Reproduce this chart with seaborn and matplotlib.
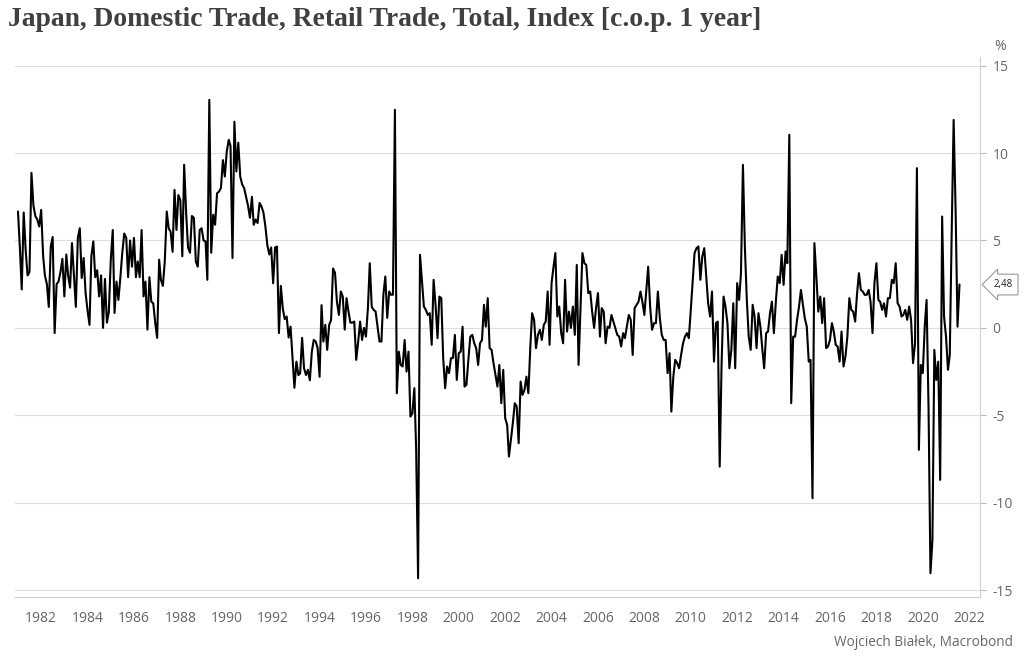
import numpy as np
import pandas as pd
import matplotlib
matplotlib.use("Agg")
import matplotlib.pyplot as plt
import matplotlib.dates as mdates
import seaborn as sns

# monthly values, Jan 1981 .. Aug 2021
y1981 = [6.66, 4.5, 2.2, 6.6, 4.5, 3.0, 3.2, 8.87, 7.0, 6.4, 6.2, 5.8]
y1982 = [6.75, 4.1, 3.0, 2.5, 1.2, 4.65, 5.2, -0.3, 2.5, 2.65, 3.2, 3.95]
y1983 = [1.8, 4.2, 3.0, 2.3, 4.85, 3.0, 1.2, 5.15, 5.7, 2.85, 4.0, 2.0]
y1984 = [1.0, 0.17, 4.1, 4.95, 2.9, 3.3, 1.8, 3.0, 0.0, 2.8, 0.3, 0.9]
y1985 = [3.9, 5.6, 0.85, 2.65, 1.6, 2.9, 4.3, 5.4, 5.15, 2.9, 5.0, 3.5]
y1986 = [5.15, 2.9, 3.8, 2.9, 5.6, 1.8, 2.65, -0.1, 2.9, 1.5, 1.4, 0.3]
y1987 = [-0.57, 3.9, 2.75, 2.4, 3.8, 6.66, 5.7, 5.5, 4.35, 7.9, 5.6, 7.6]
y1988 = [7.3, 4.1, 9.33, 6.6, 4.6, 4.3, 6.4, 6.3, 3.8, 3.5, 5.6, 5.7]
y1989 = [5.0, 4.95, 2.75, 13.05, 4.3, 6.47, 5.9, 7.7, 7.8, 8.0, 9.6, 8.66]
y1990 = [10.1, 10.76, 10.4, 4.0, 11.8, 8.95, 10.6, 8.66, 8.2, 8.0, 7.5, 7.0]
y1991 = [6.3, 7.5, 5.9, 6.2, 6.0, 7.15, 6.95, 6.6, 5.8, 4.75, 4.2, 4.6]
y1992 = [2.55, 4.6, 4.65, -0.3, 2.4, 1.1, 0.5, 0.65, -0.55, 0.07, -1.7, -3.43]
y1993 = [-1.93, -2.7, -2.6, -0.57, -2.3, -2.7, -2.4, -3.0, -1.36, -0.69, -0.78, -1.15]
y1994 = [-2.8, 1.3, -0.78, 0.17, -1.26, 0.17, 0.45, 3.4, 3.15, 1.5, 0.74, 2.08]
y1995 = [1.8, -0.1, 1.7, 0.93, 0.3, 0.3, 0.36, -1.83, -0.78, 0.36, -0.69, 0.0]
y1996 = [-0.5, 1.14, 3.7, 1.2, 1.03, 0.93, 0.1, -0.78, -0.78, 1.89, 2.94, 0.57]
y1997 = [2.08, 1.89, 1.9, 12.48, -3.74, -1.36, -2.12, -2.21, -0.69, -2.5, -1.36, -5.08]
y1998 = [-4.89, -3.45, -6.89, -14.33, 4.18, 2.65, 1.22, 1.03, 0.74, 0.84, -0.97, 2.75]
y1999 = [1.32, -0.59, 1.79, 1.7, -1.73, -3.45, -2.21, -2.59, -1.73, -1.73, -0.4, -2.98]
y2000 = [-1.45, -1.36, 0.07, -3.36, -3.26, -1.8, -0.5, -0.4, -0.88, -1.16, -2.12, -0.88]
y2001 = [-0.69, 1.32, 0.07, 1.7, -1.16, -1.26, -2.02, -2.69, -3.36, -2.12, -4.31, -2.4]
y2002 = [-5.17, -5.55, -7.36, -6.41, -5.46, -4.31, -4.5, -6.6, -3.07, -3.83, -3.55, -2.79]
y2003 = [-3.74, -1.07, 0.84, 0.46, -1.16, -0.4, -0.11, -0.69, 0.17, 0.36, 2.08, -0.97]
y2004 = [2.56, 3.5, 4.28, 0.65, 1.22, -0.3, -0.88, 2.75, -0.21, 0.93, 0.0, 1.22]
y2005 = [-0.4, 3.6, -2.12, 1.22, 4.28, 3.7, 3.6, 1.99, 2.08, 0.93, 0.0, 1.13]
y2006 = [1.99, -0.5, 1.13, 0.93, -0.88, 0.07, 0.0, 0.74, 0.36, 0.0, -0.4, -0.5]
y2007 = [-1.07, -0.3, -0.59, 0.07, 0.74, 0.46, -1.55, 1.13, 1.32, 1.5, 2.08, 1.5]
y2008 = [0.74, 2.17, 3.5, 1.22, -0.11, 0.27, 0.27, 2.08, 0.55, -0.4, -0.69, -0.69]
y2009 = [-2.59, -1.45, -4.79, -2.79, -1.83, -2.02, -2.31, -1.55, -0.88, -0.5, -0.3, -0.59]
y2010 = [1.03, 2.75, 4.28, 4.56, 4.66, 2.75, 4.09, 4.56, 2.94, 1.41, 0.65, 2.08]
y2011 = [-1.93, 0.27, 0.36, -7.94, -2.02, 1.79, 1.22, 0.27, -2.31, -1.26, 1.41, -2.31]
y2012 = [2.56, 1.6, 3.13, 9.33, 4.66, 1.6, -0.5, -1.26, 1.32, 0.65, -1.16, 0.84]
y2013 = [0.07, -1.26, -2.31, -0.3, -0.21, 0.84, 1.5, -0.3, 1.5, 2.94, 2.56, 4.18]
y2014 = [2.46, 4.37, 3.7, 11.05, -4.31, -0.5, -0.5, 0.46, 1.22, 2.17, 1.32, 0.55]
y2015 = [0.07, -1.93, -1.83, -9.75, 4.85, 2.94, 0.93, 1.79, 0.27, 1.7, -1.16, -1.07]
y2016 = [-0.69, 0.27, -0.21, -0.97, -1.07, -1.93, -0.21, -2.21, -1.64, -0.5, 1.7, 1.03]
y2017 = [0.93, 0.36, 1.89, 3.13, 2.17, 2.08, 1.89, 1.89, 2.17, 1.5, -0.3, 2.56]
y2018 = [3.7, 1.6, 1.5, 1.03, 1.41, 0.65, 1.7, 1.7, 2.75, 2.56, 3.7, 1.41]
y2019 = [1.22, 0.65, 0.74, 1.03, 0.46, 1.22, 0.46, -2.02, -0.9, 9.14, -6.98, -2.12]
y2020 = [-2.59, 0.07, 1.6, -4.6, -14.04, -12.14, -1.26, -2.98, -1.93, -8.7, 6.37, 0.65]
y2021 = [-0.5, -2.4, -1.55, 5.6, 11.9, 6.75, 0.07, 2.48]

years = [y1981, y1982, y1983, y1984, y1985, y1986, y1987, y1988, y1989, y1990,
         y1991, y1992, y1993, y1994, y1995, y1996, y1997, y1998, y1999, y2000,
         y2001, y2002, y2003, y2004, y2005, y2006, y2007, y2008, y2009, y2010,
         y2011, y2012, y2013, y2014, y2015, y2016, y2017, y2018, y2019, y2020,
         y2021]
values = [v for yr in years for v in yr]
yticks = [-15, -10, -5, 0, 5, 10, 15]
xtick_years = list(range(1982, 2023, 2))

df = pd.DataFrame({
    "date": pd.date_range("1981-01-01", periods=len(values), freq="MS"),
    "value": values,
})

sns.set_theme(style="white")
plt.rcParams["font.family"] = ["Open Sans", "DejaVu Sans"]

grey = "#666666"
fig = plt.figure(figsize=(10.24, 6.63), dpi=100)
ax = fig.add_axes([15 / 1024, 1 - 597 / 663, 965 / 1024, 540 / 663])

sns.lineplot(data=df, x="date", y="value", ax=ax, color="black", linewidth=1.5)

ax.set_ylim(-15.4, 15.5)
ax.set_xlim(pd.Timestamp("1980-11-15"), pd.Timestamp("2022-06-20"))
ax.set_yticks(yticks)
ax.set_yticklabels([str(t) for t in yticks])
ax.yaxis.tick_right()
ax.set_xticks([pd.Timestamp(f"{y}-01-01") for y in xtick_years])
ax.xaxis.set_major_formatter(mdates.DateFormatter("%Y"))
ax.set_xlabel("")
ax.set_ylabel("")
ax.grid(axis="y", color="#dedede", linewidth=0.8)

for side in ["top", "left"]:
    ax.spines[side].set_visible(False)
for side in ["right", "bottom"]:
    ax.spines[side].set_color("#cfcfcf")
    ax.spines[side].set_linewidth(0.8)
ax.tick_params(axis="both", colors="#bbbbbb", labelcolor=grey, labelsize=10,
               length=4, width=0.8)
ax.tick_params(axis="x", pad=6)
ax.tick_params(axis="y", pad=5)

# last value label
last = values[-1]
ax.annotate(f"{last:.2f}".replace(".", ","), xy=(1.0, last),
            xycoords=("axes fraction", "data"), xytext=(10, 0),
            textcoords="offset points", va="center", ha="left",
            fontsize=7, color="#222222",
            bbox=dict(boxstyle="larrow,pad=0.5", fc="white", ec="#999999", lw=0.8))

fig.text(0.977, 1 - 46 / 663, "%", ha="center", va="center", fontsize=10, color=grey)
fig.text(8 / 1024, 1 - 20 / 663,
         "Japan, Domestic Trade, Retail Trade, Total, Index [c.o.p. 1 year]",
         ha="left", va="center", fontsize=19.9, fontweight="bold",
         family="Liberation Serif", color="#404040")
fig.text(1013 / 1024, 1 - 642 / 663, "Wojciech Białek, Macrobond",
         ha="right", va="center", fontsize=9.8, color=grey)

fig.savefig("out.png", dpi=100, facecolor="white")
